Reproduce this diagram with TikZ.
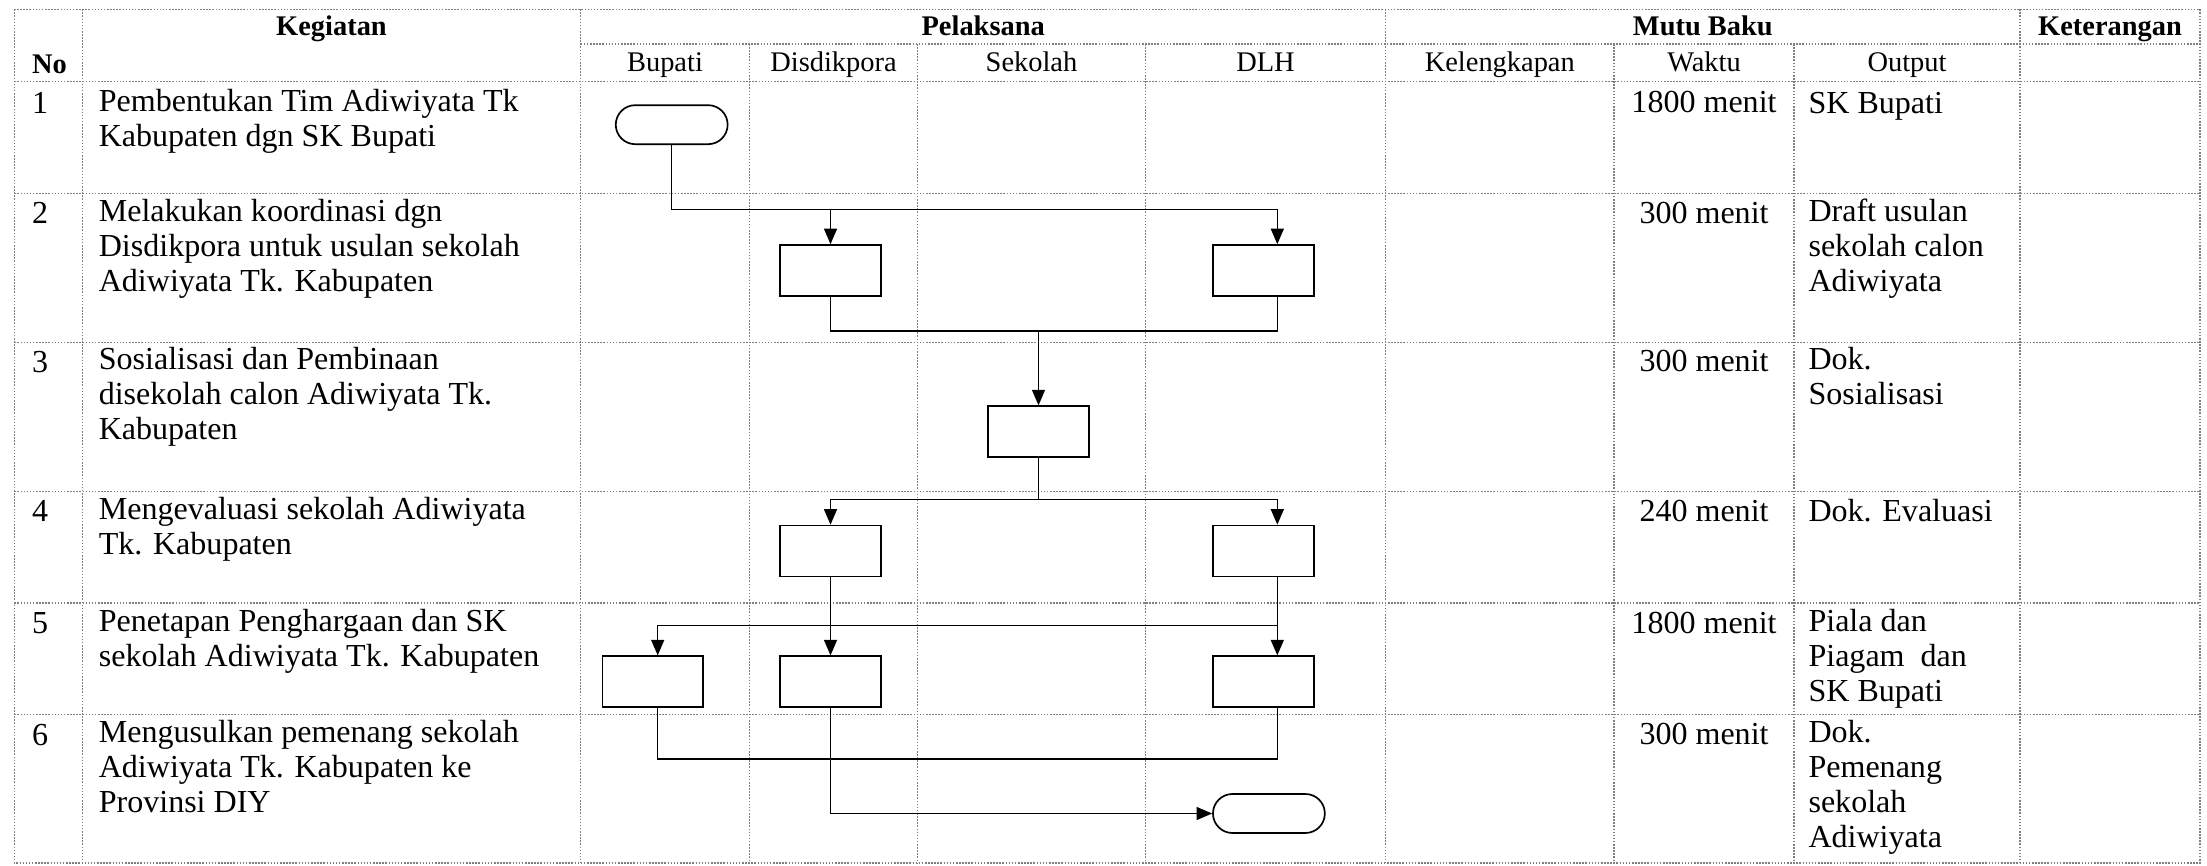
\documentclass[tikz,border=0pt]{standalone}
\usepackage{fontspec}
\setmainfont{Liberation Serif}
\usepackage{tikz}
\usetikzlibrary{arrows.meta,shapes.misc}
\newcommand{\arw}{-{Triangle[length=6pt,width=5pt]}}
\tikzset{
  tabline/.style={gray, line width=.5pt, dash pattern=on .6pt off .6pt},
  flow/.style={line width=.6pt},
  proc/.style={draw, line width=.65pt, minimum width=39pt, minimum height=19.7pt, inner sep=0},
  term/.style={draw, line width=.65pt, rounded rectangle, minimum width=43.3pt, minimum height=15.1pt, inner sep=0},
  hd/.style={anchor=base, inner sep=0, font=\fontsize{11}{13}\selectfont\bfseries},
  sub/.style={anchor=base, inner sep=0, font=\fontsize{11}{13}\selectfont},
  txt/.style={anchor=north west, yshift=9.485pt, inner sep=0, align=left,
    font=\fontsize{12.4}{13.55}\selectfont, execute at begin node=\strut},
  mid/.style={anchor=base, inner sep=0, font=\fontsize{12.4}{13.55}\selectfont}
}
\begin{document}
\begin{tikzpicture}[x=.387pt,y=-.387pt]
\useasboundingbox (0,0) rectangle (2207,866);
%table
\draw[tabline] (14.3,9.3) rectangle (2200,863);
\draw[tabline] (580.7,44) -- (2200,44);
\foreach \y in {81.7,193.3,342.7,491.3,603,714.7}
  \draw[tabline] (14.3,\y) -- (2200,\y);
\foreach \x in {82.3,580.7,1385.7,2020}
  \draw[tabline] (\x,9.3) -- (\x,863);
\foreach \x in {749.3,917.7,1145.3,1614,1794}
  \draw[tabline] (\x,44) -- (\x,863);
%header
\node[hd] (hkeg) at (331.5,36) {Kegiatan};
\node[hd] (hpel) at (983.2,36) {Pelaksana};
\node[hd] (hmutu) at (1702.8,36) {Mutu Baku};
\node[hd] (hket) at (2110,36) {Keterangan};
\node[hd,anchor=base west] (hno) at (31.7,73.3) {No};
\node[sub] (sbup) at (665,71.7) {Bupati};
\node[sub] (sdis) at (833.5,71.7) {Disdikpora};
\node[sub] (ssek) at (1031.5,71.7) {Sekolah};
\node[sub] (sdlh) at (1265.5,71.7) {DLH};
\node[sub] (skel) at (1499.8,71.7) {Kelengkapan};
\node[sub] (swak) at (1704,71.7) {Waktu};
\node[sub] (sout) at (1907,71.7) {Output};
%no
\node[txt] (n1) at (31.7,113) {1};
\node[txt] (n2) at (31.7,223.3) {2};
\node[txt] (n3) at (31.7,371.7) {3};
\node[txt] (n4) at (31.7,521.3) {4};
\node[txt] (n5) at (31.7,633) {5};
\node[txt] (n6) at (31.7,744.7) {6};
%kegiatan
\node[txt] (k1) at (98.3,113) {Pembentukan Tim Adiwiyata Tk\\Kabupaten dgn SK Bupati};
\node[txt] (k2) at (98.3,223.3) {Melakukan koordinasi dgn\\Disdikpora untuk usulan sekolah\\Adiwiyata Tk. Kabupaten};
\node[txt] (k3) at (98.3,371.7) {Sosialisasi dan Pembinaan\\disekolah calon Adiwiyata Tk.\\Kabupaten};
\node[txt] (k4) at (98.3,521.3) {Mengevaluasi sekolah Adiwiyata\\Tk. Kabupaten};
\node[txt] (k5) at (98.3,633) {Penetapan Penghargaan dan SK\\sekolah Adiwiyata Tk. Kabupaten};
\node[txt] (k6) at (98.3,744.7) {Mengusulkan pemenang sekolah\\Adiwiyata Tk. Kabupaten ke\\Provinsi DIY};
%waktu
\node[mid] (w1) at (1704,113) {1800 menit};
\node[mid] (w2) at (1704,223.3) {300 menit};
\node[mid] (w3) at (1704,371.7) {300 menit};
\node[mid] (w4) at (1704,521.3) {240 menit};
\node[mid] (w5) at (1704,633) {1800 menit};
\node[mid] (w6) at (1704,744.7) {300 menit};
%output
\node[txt] (o1) at (1808,113) {SK Bupati};
\node[txt] (o2) at (1808,223.3) {Draft usulan\\sekolah calon\\Adiwiyata};
\node[txt] (o3) at (1808,371.7) {Dok.\\Sosialisasi};
\node[txt] (o4) at (1808,521.3) {Dok. Evaluasi};
\node[txt] (o5) at (1808,633) {Piala dan\\Piagam\ \ dan\\SK Bupati};
\node[txt] (o6) at (1808,744.7) {Dok.\\Pemenang\\sekolah\\Adiwiyata};
%flow symbols
\node[term] (t1) at (671.7,124.7) {};
\node[proc] (b2a) at (830.5,270.5) {};
\node[proc] (b2b) at (1263.5,270.5) {};
\node[proc] (b3) at (1038.5,431.7) {};
\node[proc] (b4a) at (830.5,551) {};
\node[proc] (b4b) at (1263.5,551) {};
\node[proc] (b5a) at (652.8,681.7) {};
\node[proc] (b5b) at (830.5,681.7) {};
\node[proc] (b5c) at (1263.5,681.7) {};
\node[term] (t6) at (1268.9,813.5) {};
\coordinate (dlh) at (1277.3,0);
\coordinate (bup) at (657.7,0);
\coordinate (j1) at (0,209.3);
\coordinate (j2) at (0,331);
\coordinate (j3) at (0,499.7);
\coordinate (j4) at (0,625.3);
\coordinate (j5) at (0,759);
%step 1 to 2
\draw[flow] (t1.south) -- (t1.south |- j1) -- (j1 -| dlh);
\draw[flow,\arw] (b2a.north |- j1) -- (b2a.north);
\draw[flow,\arw] (j1 -| dlh) -- (b2b.north -| dlh);
%step 2 to 3
\draw[flow] (b2a.south) -- (b2a.south |- j2) -- (j2 -| dlh) -- (b2b.south -| dlh);
\draw[flow,\arw] (b3.north |- j2) -- (b3.north);
%step 3 to 4
\draw[flow] (b3.south) -- (b3.south |- j3);
\draw[flow,\arw] (b3.south |- j3) -| (b4a.north);
\draw[flow,\arw] (b3.south |- j3) -| (b4b.north -| dlh);
%step 4 to 5
\draw[flow,\arw] (b4a.south) -- (b5b.north);
\draw[flow,\arw] (b4b.south -| dlh) -- (b5c.north -| dlh);
\draw[flow,\arw] (j4 -| dlh) -| (b5a.north -| bup);
%step 5 to 6
\draw[flow] (b5a.south -| bup) |- (j5 -| dlh) -- (b5c.south -| dlh);
\draw[flow,\arw] (b5b.south) |- (t6.west);
\end{tikzpicture}
\end{document}
